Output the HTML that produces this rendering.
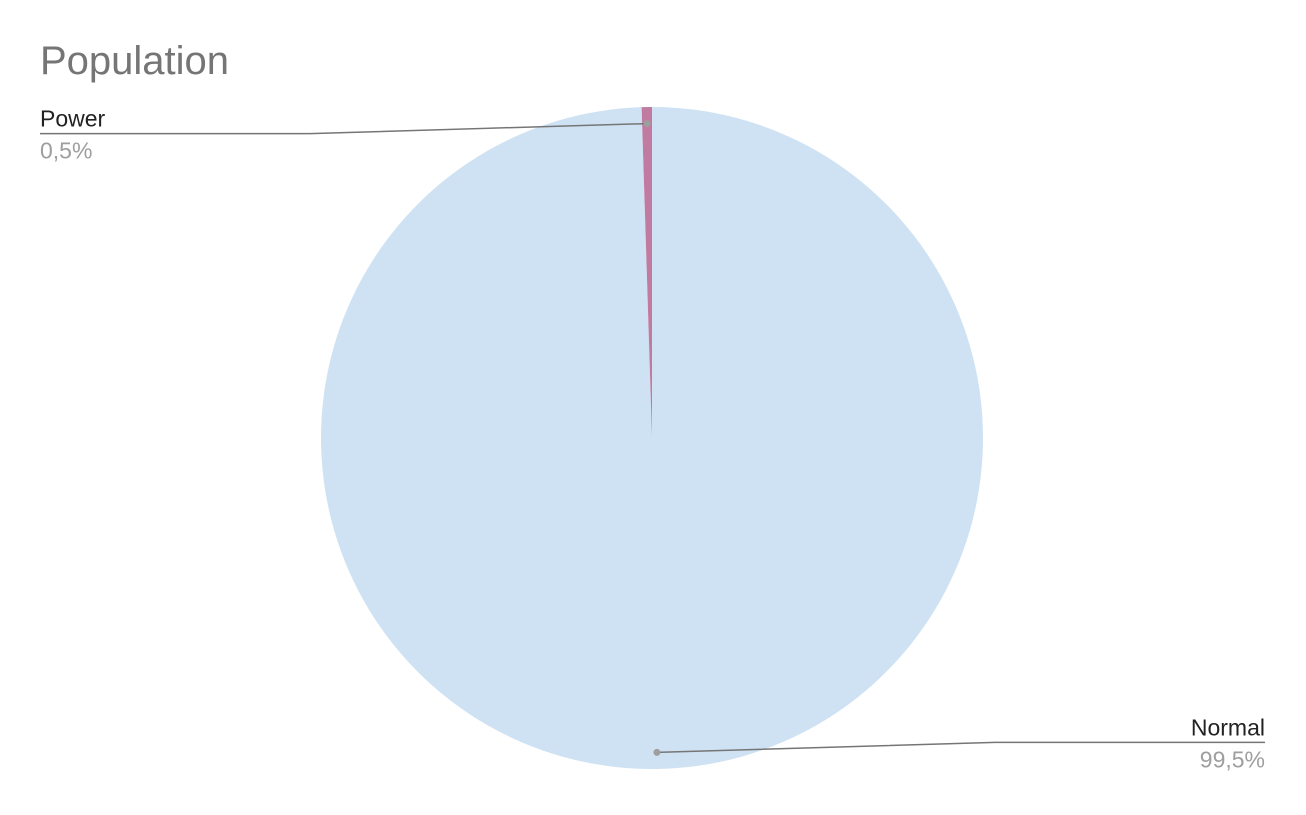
<!DOCTYPE html>
<html><head><meta charset="utf-8"><style>
body{margin:0;background:#fff;font-family:"Liberation Sans",Arial,sans-serif;}
</style></head><body>
<svg width="1306" height="810">
<text x="40" y="74" font-size="40" fill="#757575">Population</text>
<g id="slices"></g>
<g id="labels"></g>
</svg>
<script>
const categories = ["Normal", "Power"];
const values = [99.5, 0.5];
const labelsText = ["99,5%", "0,5%"];
const colors = ["#cfe2f3", "#c27ba0"];
const cx = 652, cy = 438, r = 331;
const ns = "http://www.w3.org/2000/svg";
const g = document.getElementById('slices');
const lg = document.getElementById('labels');
const total = values.reduce((a,b)=>a+b,0);
let start = 0;
function pt(a, rr){return [cx + rr*Math.sin(a), cy - rr*Math.cos(a)];}
values.forEach((v,i)=>{
  const a0 = start/total*2*Math.PI, a1 = (start+v)/total*2*Math.PI;
  const p0 = pt(a0,r), p1 = pt(a1,r);
  const large = (a1-a0) > Math.PI ? 1 : 0;
  const p = document.createElementNS(ns,'path');
  p.setAttribute('d',`M${cx},${cy}L${p0[0]},${p0[1]}A${r},${r} 0 ${large} 1 ${p1[0]},${p1[1]}Z`);
  p.setAttribute('fill',colors[i]);
  
  
  g.appendChild(p);
  const mid = (a0+a1)/2;
  const d = pt(mid, r*0.95);
  const right = Math.sin(mid) >= 0;
  let textY, elbowX, endX;
  if (right) { textY = d[1]-10; elbowX = 995; endX = 1265; }
  else { textY = d[1]+10; elbowX = 310; endX = 40; }
  const line = document.createElementNS(ns,'polyline');
  line.setAttribute('points',`${d[0]},${d[1]} ${elbowX},${textY} ${endX},${textY}`);
  line.setAttribute('fill','none');
  line.setAttribute('stroke','#757575');
  line.setAttribute('stroke-width','1.5');
  
  
  lg.appendChild(line);
  const dot = document.createElementNS(ns,'circle');
  dot.setAttribute('cx',d[0]); dot.setAttribute('cy',d[1]); dot.setAttribute('r','3.5');
  dot.setAttribute('fill','#9e9e9e');
  
  
  lg.appendChild(dot);
  const t1 = document.createElementNS(ns,'text');
  t1.setAttribute('x',endX); t1.setAttribute('y',textY-7);
  t1.setAttribute('font-size','23'); t1.setAttribute('fill','#222');
  t1.setAttribute('text-anchor', right?'end':'start');
  t1.textContent = categories[i];
  
  
  lg.appendChild(t1);
  const t2 = document.createElementNS(ns,'text');
  t2.setAttribute('x',endX); t2.setAttribute('y',textY+25);
  t2.setAttribute('font-size','23'); t2.setAttribute('fill','#9e9e9e');
  t2.setAttribute('text-anchor', right?'end':'start');
  t2.textContent = labelsText[i];
  
  
  lg.appendChild(t2);
  start += v;
});
</script>
</body></html>
